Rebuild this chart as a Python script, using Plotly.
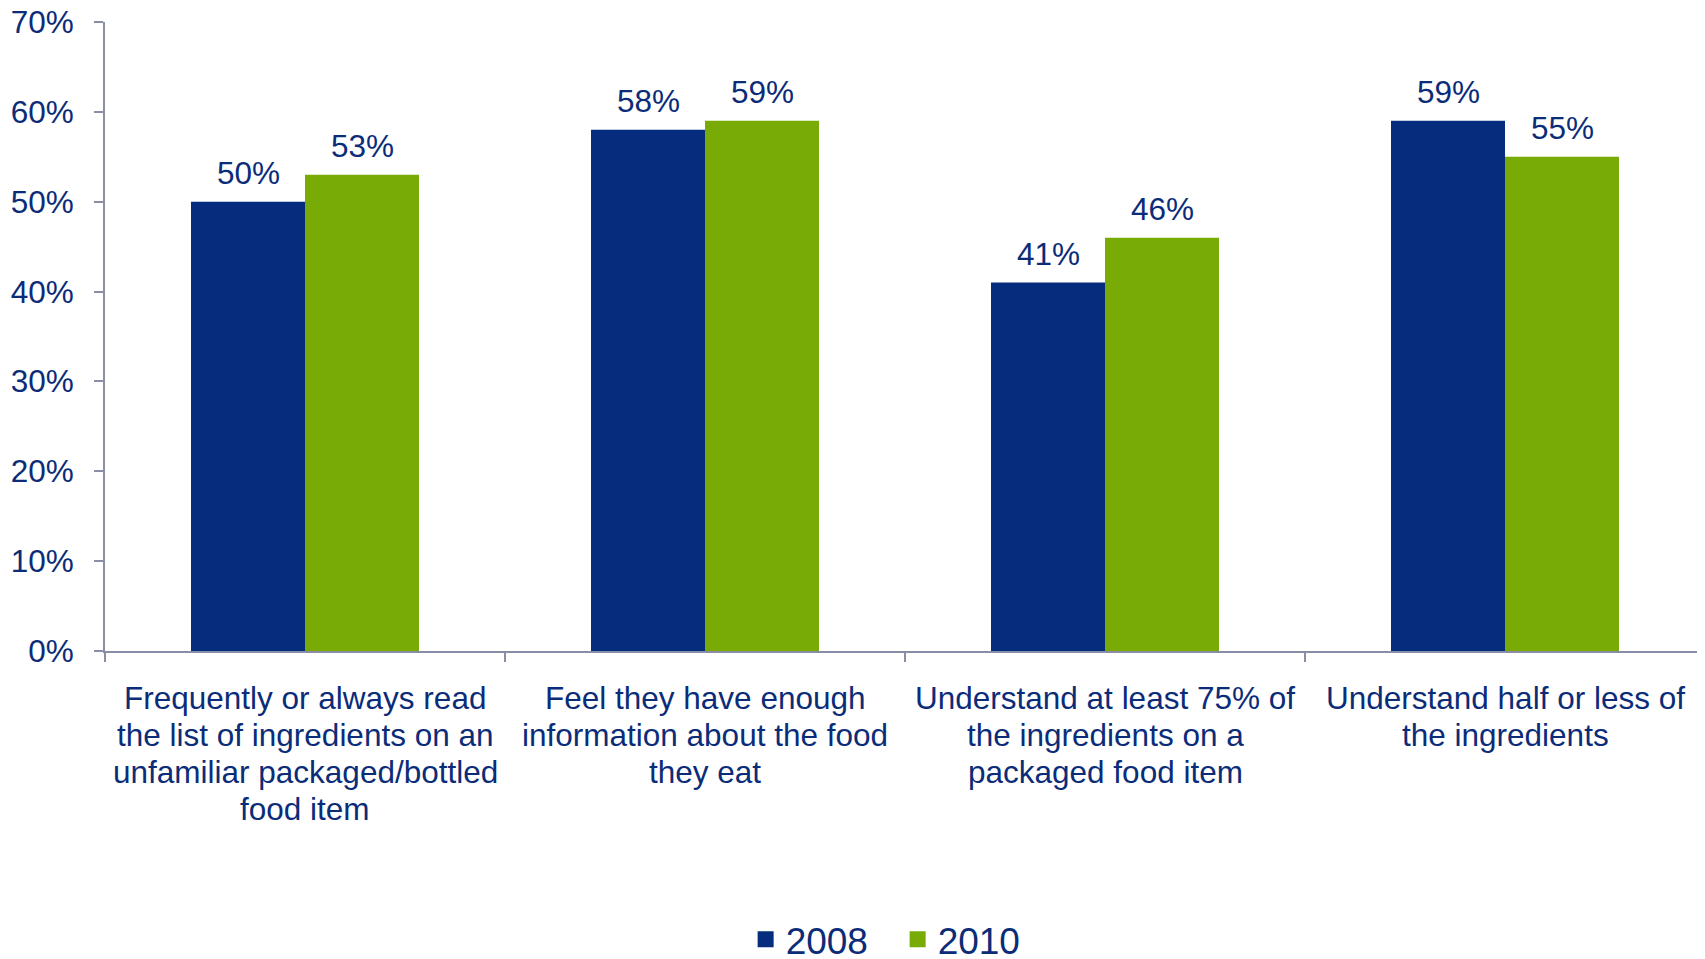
import plotly.graph_objects as go

categories = [
    "Frequently or always read\nthe list of ingredients on an\nunfamiliar packaged/bottled\nfood item",
    "Feel they have enough\ninformation about the food\nthey eat",
    "Understand at least 75% of\nthe ingredients on a\npackaged food item",
    "Understand half or less of\nthe ingredients",
]
series_names = ["2008", "2010"]
values_2008 = [0.50, 0.58, 0.41, 0.59]
values_2010 = [0.53, 0.59, 0.46, 0.55]

TEXT = "#0b2c78"
AXIS = "#8a8da6"
COLORS = ["#062d7d", "#78ab06"]
FONT = "Liberation Sans, Arial, sans-serif"
FS = 31.5
BAR_W = 0.285

x_keys = [c.replace("\n", " ") for c in categories]

fig = go.Figure()
annotations = []
for s, (name, vals) in enumerate(zip(series_names, [values_2008, values_2010])):
    off = -BAR_W if s == 0 else 0.0
    fig.add_trace(go.Bar(name=name, x=x_keys, y=vals, width=BAR_W, offset=off,
                         marker_color=COLORS[s], marker_line_width=0, showlegend=False))
    # legend entry with a larger square swatch
    fig.add_trace(go.Scatter(name=name, x=[None], y=[None], mode="markers",
                             marker=dict(symbol="square", size=22, color=COLORS[s]),
                             showlegend=True))
    for i, v in enumerate(vals):
        annotations.append(dict(x=i + off + BAR_W / 2, y=v, xref="x", yref="y",
                                text=f"{v:.0%}", showarrow=False, yanchor="middle",
                                yshift=29, font=dict(size=FS, color=TEXT, family=FONT)))

# category labels, one line per annotation to match the tight line spacing
for i, c in enumerate(categories):
    for j, line in enumerate(c.split("\n")):
        annotations.append(dict(x=i, y=0, xref="x", yref="paper", text=line,
                                showarrow=False, yanchor="middle", xanchor="center",
                                yshift=-(47 + 37 * j),
                                font=dict(size=FS, color=TEXT, family=FONT)))

fig.update_layout(
    width=1697, height=951,
    margin=dict(l=97, r=0, t=14, b=308, autoexpand=False),
    barmode="overlay",
    plot_bgcolor="white", paper_bgcolor="white",
    font=dict(family=FONT, color=TEXT, size=FS),
    showlegend=True,
    legend=dict(orientation="h", x=0.4954, xanchor="center", y=-0.459, yanchor="middle",
                font=dict(size=37, color=TEXT, family=FONT), traceorder="normal",
                entrywidth=107),
    annotations=annotations,
)
fig.update_yaxes(range=[0, 0.7], dtick=0.1, tickformat=".0%", showgrid=False,
                 showline=True, linecolor=AXIS, linewidth=2, ticks="outside",
                 tickcolor=AXIS, ticklen=9, tickwidth=2, zeroline=False,
                 ticklabelstandoff=14, ticklabeloverflow="allow",
                 tickfont=dict(size=FS, color=TEXT, family=FONT))
fig.update_xaxes(showline=True, linecolor=AXIS, linewidth=2, ticks="outside",
                 tickson="boundaries", tickcolor=AXIS, ticklen=9, tickwidth=2,
                 showgrid=False, showticklabels=False, range=[-0.5, 3.5])

fig.write_html("out.html")
